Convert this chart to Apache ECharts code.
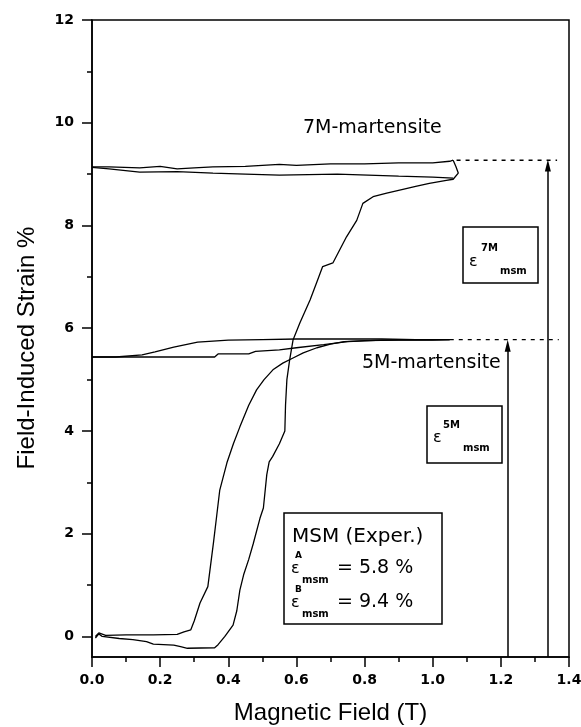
<!DOCTYPE html>
<html>
<head>
<meta charset="utf-8">
<script src="https://cdn.jsdelivr.net/npm/echarts@6/dist/echarts.min.js"></script>
<style>
  html, body { margin: 0; padding: 0; background: #fff; }
  #chart { width: 581px; height: 727px; }
</style>
</head>
<body>
<div id="chart"></div>
<script>
// first field ramp, 5M sample (lower left loop)
const rise5MField = [0.01, 0.02, 0.04, 0.10, 0.18, 0.25, 0.27, 0.29, 0.30, 0.317, 0.34, 0.357, 0.366, 0.375, 0.385, 0.396, 0.415, 0.434, 0.46, 0.483, 0.505, 0.531, 0.56, 0.59, 0.62, 0.66, 0.70, 0.74, 0.80, 0.90, 1.00, 1.05]
const rise5MStrain = [0.00, 0.07, 0.02, 0.03, 0.03, 0.04, 0.09, 0.13, 0.30, 0.65, 0.97, 1.85, 2.35, 2.85, 3.10, 3.38, 3.75, 4.08, 4.50, 4.80, 5.00, 5.19, 5.32, 5.42, 5.52, 5.62, 5.69, 5.74, 5.76, 5.77, 5.77, 5.78]
const back5MField = [1.05, 0.95, 0.85, 0.75, 0.60, 0.50, 0.40, 0.31, 0.24, 0.185, 0.147, 0.07, 0.0]
const back5MStrain = [5.78, 5.78, 5.79, 5.79, 5.79, 5.78, 5.77, 5.73, 5.63, 5.54, 5.48, 5.44, 5.44]
const again5MField = [0.0, 0.10, 0.20, 0.36, 0.37, 0.46, 0.48, 0.55, 0.60, 0.68, 0.75, 0.85, 1.05]
const again5MStrain = [5.44, 5.44, 5.44, 5.44, 5.50, 5.50, 5.55, 5.58, 5.62, 5.68, 5.74, 5.77, 5.78]

// 7M sample
const rise7MField = [0.01, 0.02, 0.03, 0.08, 0.12, 0.16, 0.18, 0.24, 0.26, 0.28, 0.36, 0.37, 0.39, 0.414, 0.425, 0.434, 0.445, 0.46, 0.473, 0.493, 0.503, 0.513, 0.52, 0.53, 0.55, 0.566, 0.568, 0.572, 0.58, 0.59, 0.61, 0.64, 0.66, 0.677, 0.707, 0.747, 0.777, 0.795, 0.825, 0.865, 0.903, 0.95, 0.99, 1.04, 1.06, 1.075, 1.068, 1.06]
const rise7MStrain = [-0.03, 0.05, 0.00, -0.04, -0.06, -0.10, -0.15, -0.17, -0.20, -0.23, -0.22, -0.16, 0.00, 0.22, 0.50, 0.90, 1.20, 1.50, 1.80, 2.30, 2.50, 3.15, 3.40, 3.50, 3.75, 4.00, 4.50, 5.00, 5.38, 5.77, 6.10, 6.55, 6.90, 7.20, 7.27, 7.78, 8.10, 8.43, 8.56, 8.63, 8.69, 8.76, 8.82, 8.88, 8.90, 9.02, 9.15, 9.27]
const back7MField = [1.06, 1.05, 1.00, 0.90, 0.80, 0.70, 0.60, 0.55, 0.45, 0.355, 0.30, 0.25, 0.20, 0.14, 0.05, 0.0]
const back7MStrain = [9.27, 9.25, 9.22, 9.22, 9.20, 9.20, 9.17, 9.19, 9.15, 9.14, 9.12, 9.10, 9.15, 9.12, 9.14, 9.14]
const again7MField = [0.0, 0.05, 0.14, 0.25, 0.355, 0.45, 0.55, 0.72, 0.90, 1.00, 1.06]
const again7MStrain = [9.13, 9.10, 9.04, 9.05, 9.02, 9.00, 8.98, 9.00, 8.96, 8.94, 8.92]

// saturation levels and where the arrows sit
const sat5M = 5.78
const sat7M = 9.27
const guide5MField = [1.05, 1.37]
const guide7MField = [1.07, 1.365]
const arrow5MField = 1.22
const arrow7MField = 1.338
const arrow5MTop = 5.66
const arrow7MTop = 9.17

const yMajor = [0, 2, 4, 6, 8, 10, 12]
const yMinor = [1, 3, 5, 7, 9, 11]

const zip = (xs, ys) => xs.map((x, i) => [x, ys[i]])

const chart = echarts.init(document.getElementById('chart'))

const curve = (name, xs, ys) => ({
  name,
  type: 'line',
  data: zip(xs, ys),
  showSymbol: false,
  symbol: 'none',
  lineStyle: { color: '#000', width: 1.3 },
  animation: false,
  z: 3,
})

const guide = (xs, level) => ({
  type: 'line',
  data: xs.map((x) => [x, level]),
  showSymbol: false,
  symbol: 'none',
  lineStyle: { color: '#000', width: 1.3, type: [4, 5] },
  animation: false,
})

const arrow = (x, top) => [
  { coord: [x, -0.4] },
  { coord: [x, top] },
]

const tickFont = { fontFamily: 'DejaVu Sans', fontWeight: 'bold', fontSize: 14, color: '#000' }
const axisPen = { color: '#000', width: 1.5 }

chart.setOption({
  backgroundColor: '#fff',
  grid: {
    left: 92, right: 12, top: 20, bottom: 70,
    outerBoundsMode: 'none',
    show: true, borderColor: '#000', borderWidth: 1.5, backgroundColor: '#fff',
  },
  xAxis: {
    type: 'value',
    min: 0, max: 1.4, interval: 0.2,
    name: 'Magnetic Field (T)',
    nameLocation: 'middle',
    nameGap: 44,
    nameTextStyle: { fontFamily: 'Liberation Sans', fontSize: 24, color: '#000' },
    axisLine: { onZero: false, lineStyle: axisPen },
    axisTick: { length: 10, lineStyle: axisPen },
    minorTick: { show: true, splitNumber: 2, length: 5, lineStyle: axisPen },
    axisLabel: { ...tickFont, margin: 16, formatter: (v) => v.toFixed(1) },
    splitLine: { show: false },
    minorSplitLine: { show: false },
  },
  yAxis: [
    {
      type: 'value',
      min: -0.4, max: 12,
      axisLine: { show: true, onZero: false, lineStyle: axisPen },
      axisTick: { show: true, length: 10, customValues: yMajor, lineStyle: axisPen },
      axisLabel: { ...tickFont, margin: 18, customValues: yMajor },
      splitLine: { show: false },
    },
    {
      type: 'value',
      min: -0.4, max: 12,
      position: 'left',
      axisLine: { show: false, onZero: false },
      axisTick: { show: true, length: 5, customValues: yMinor, lineStyle: axisPen },
      axisLabel: { show: false },
      splitLine: { show: false },
    },
  ],
  series: [
    curve('5M rise', rise5MField, rise5MStrain),
    curve('5M back', back5MField, back5MStrain),
    curve('5M again', again5MField, again5MStrain),
    curve('7M rise', rise7MField, rise7MStrain),
    curve('7M back', back7MField, back7MStrain),
    curve('7M again', again7MField, again7MStrain),
    guide(guide5MField, sat5M),
    {
      ...guide(guide7MField, sat7M),
      markLine: {
        silent: true,
        animation: false,
        symbol: ['none', 'triangle'],
        symbolSize: [6, 12],
        label: { show: false },
        lineStyle: { color: '#000', width: 1.5, type: 'solid' },
        data: [arrow(arrow5MField, arrow5MTop), arrow(arrow7MField, arrow7MTop)],
      },
    },
  ],
  graphic: [
    {
      type: 'text', x: 27, y: 348, rotation: Math.PI / 2,
      style: { text: 'Field-Induced Strain %', font: '24px "Liberation Sans"', fill: '#000', align: 'center', verticalAlign: 'middle' },
    },
    { type: 'text', left: 303, top: 119, style: { text: '7M-martensite', font: '19px "DejaVu Sans"', fill: '#000' } },
    { type: 'text', left: 362, top: 354, style: { text: '5M-martensite', font: '19px "DejaVu Sans"', fill: '#000' } },
    // epsilon 7M box
    { type: 'rect', shape: { x: 463, y: 227, width: 75, height: 56 }, style: { fill: '#fff', stroke: '#000', lineWidth: 1.5 } },
    { type: 'text', x: 469, y: 262, style: { text: 'ε', font: '16px "DejaVu Sans"', fill: '#000', verticalAlign: 'middle' } },
    { type: 'text', x: 481, y: 248, style: { text: '7M', font: 'bold 10px "DejaVu Sans"', fill: '#000', verticalAlign: 'middle' } },
    { type: 'text', x: 500, y: 271, style: { text: 'msm', font: 'bold 10px "DejaVu Sans"', fill: '#000', verticalAlign: 'middle' } },
    // epsilon 5M box
    { type: 'rect', shape: { x: 427, y: 406, width: 75, height: 57 }, style: { fill: '#fff', stroke: '#000', lineWidth: 1.5 } },
    { type: 'text', x: 433, y: 438, style: { text: 'ε', font: '16px "DejaVu Sans"', fill: '#000', verticalAlign: 'middle' } },
    { type: 'text', x: 443, y: 425, style: { text: '5M', font: 'bold 10px "DejaVu Sans"', fill: '#000', verticalAlign: 'middle' } },
    { type: 'text', x: 463, y: 448, style: { text: 'msm', font: 'bold 10px "DejaVu Sans"', fill: '#000', verticalAlign: 'middle' } },
    // MSM legend box
    { type: 'rect', shape: { x: 284, y: 513, width: 158, height: 111 }, style: { fill: '#fff', stroke: '#000', lineWidth: 1.5 } },
    { type: 'text', x: 292, y: 537, style: { text: 'MSM (Exper.)', font: '20px "DejaVu Sans"', fill: '#000', verticalAlign: 'middle' } },
    { type: 'text', x: 291, y: 569, style: { text: 'ε', font: '16px "DejaVu Sans"', fill: '#000', verticalAlign: 'middle' } },
    { type: 'text', x: 295, y: 556, style: { text: 'A', font: 'bold 9px "DejaVu Sans"', fill: '#000', verticalAlign: 'middle' } },
    { type: 'text', x: 302, y: 580, style: { text: 'msm', font: 'bold 10px "DejaVu Sans"', fill: '#000', verticalAlign: 'middle' } },
    { type: 'text', x: 337, y: 568, style: { text: '= 5.8 %', font: '19px "DejaVu Sans"', fill: '#000', verticalAlign: 'middle' } },
    { type: 'text', x: 291, y: 603, style: { text: 'ε', font: '16px "DejaVu Sans"', fill: '#000', verticalAlign: 'middle' } },
    { type: 'text', x: 295, y: 590, style: { text: 'B', font: 'bold 9px "DejaVu Sans"', fill: '#000', verticalAlign: 'middle' } },
    { type: 'text', x: 302, y: 614, style: { text: 'msm', font: 'bold 10px "DejaVu Sans"', fill: '#000', verticalAlign: 'middle' } },
    { type: 'text', x: 337, y: 602, style: { text: '= 9.4 %', font: '19px "DejaVu Sans"', fill: '#000', verticalAlign: 'middle' } },
  ],
})
</script>
</body>
</html>
